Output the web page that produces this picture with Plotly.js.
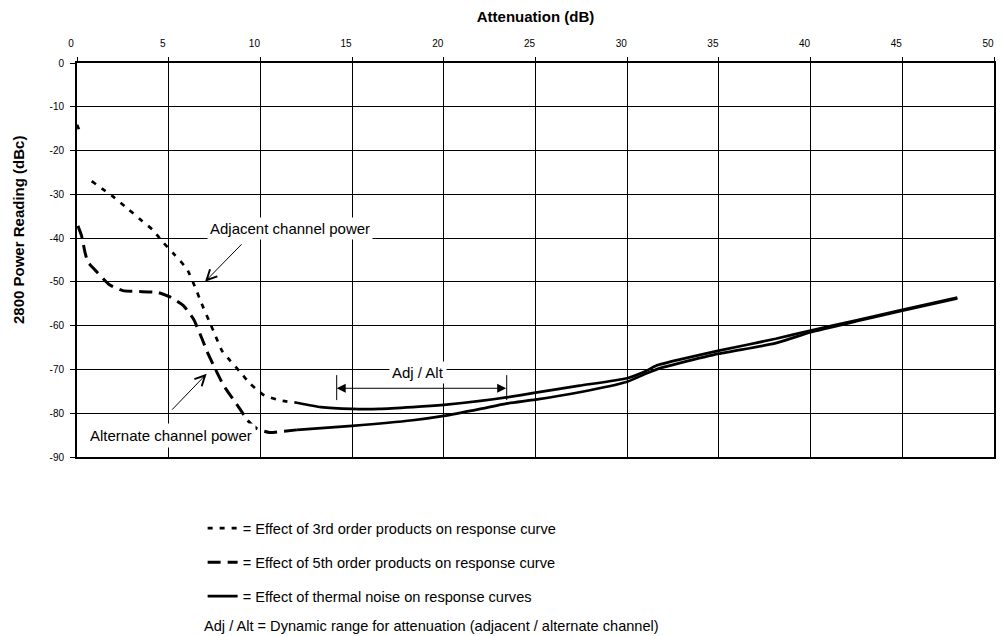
<!DOCTYPE html>
<html>
<head>
<meta charset="utf-8">
<script src="https://cdn.plot.ly/plotly-3.0.1.min.js"></script>
<style>html,body{margin:0;padding:0;background:#fff}#chart{width:1003px;height:636px}</style>
</head>
<body>
<div id="chart"></div>
<script>
// ---- tick values ----
const xTicks = [0, 5, 10, 15, 20, 25, 30, 35, 40, 45, 50];
const yTicks = [0, -10, -20, -30, -40, -50, -60, -70, -80, -90];

// ---- adjacent channel, 3rd-order products (dotted part) ----
const adj3X = [0, 0.12, null, 0.8, 1.9, 2.8, 3.55, 4.1, 4.7, 5.3, 6.0, 6.45, 6.8, 7.2, 7.55, 7.9, 8.35, 8.9, 9.45, 10.2, 11.1, 12.0];
const adj3Y = [-14.1, -15.3, null, -27, -30.3, -33.4, -36.1, -38, -41, -43.7, -47.1, -51.3, -55, -58.9, -62.3, -65.7, -68, -70.6, -73.3, -75.9, -77.1, -77.6];

// ---- alternate channel, 5th-order products (dashed part) ----
const alt5X = [0.05, 0.25, 0.45, 0.6, 1.1, 1.75, 2.5, 3.3, 4.4, 5.1, 5.8, 6.35, 6.75, 7.1, 7.45, 8.0, 8.75, 9.3, 9.8, 10.5, 11.3, 12.0];
const alt5Y = [-37.2, -39.5, -43.5, -45.5, -47.8, -50.6, -52, -52.2, -52.4, -53.5, -55.4, -58.5, -62.3, -66, -69.1, -73.7, -78.2, -81.6, -83.5, -84.4, -84.1, -83.8];

// ---- thermal noise (solid parts) ----
const adjThX = [12, 13.3, 15, 16.5, 18.3, 20, 22, 23.4, 25, 27.4, 30, 31, 31.6, 32.9, 35, 38.1, 40, 42.5, 45, 48];
const adjThY = [-77.6, -78.6, -79, -79, -78.6, -78.1, -77.2, -76.4, -75.3, -73.7, -72.0, -70.4, -69.1, -67.7, -65.7, -63.0, -61.1, -58.8, -56.4, -53.6];
const altThX = [12, 15, 18.3, 20, 22, 23.4, 25, 27.4, 30, 31, 31.8, 32.9, 35, 38.1, 40, 42.5, 45, 48];
const altThY = [-83.8, -82.9, -81.6, -80.6, -79.0, -77.8, -76.9, -75.2, -72.8, -71.0, -69.7, -68.5, -66.4, -64.0, -61.5, -59.0, -56.6, -53.8];

// ---- texts ----
const legendNames = [
  '= Effect of 3rd order products on response curve',
  '= Effect of 5th order products on response curve',
  '= Effect of thermal noise on response curves'
];
const noteText = 'Adj / Alt = Dynamic range for attenuation (adjacent / alternate channel)';
const adjLabel = 'Adjacent channel power';
const altLabel = 'Alternate channel power';
const rangeLabel = 'Adj / Alt';
const xTitle = 'Attenuation (dB)';
const yTitle = '2800 Power Reading (dBc)';

const FONT = 'Liberation Sans, Arial, Helvetica, sans-serif';
const DOT = '5px,7px';
const DASH = '13px,7px';
const LW = 2.7;

const traces = [
  {x: adj3X, y: adj3Y, mode: 'lines', name: legendNames[0], legendgroup: 'g1', legendrank: 1,
   line: {color: '#000', width: LW, dash: DOT, shape: 'spline', smoothing: 0.5}, connectgaps: false},
  {x: alt5X, y: alt5Y, mode: 'lines', name: legendNames[1], legendgroup: 'g2', legendrank: 2,
   line: {color: '#000', width: LW + 0.3, dash: DASH, shape: 'spline', smoothing: 0.5}},
  {x: adjThX, y: adjThY, mode: 'lines', name: legendNames[2], legendgroup: 'g3', legendrank: 3,
   line: {color: '#000', width: LW, shape: 'spline', smoothing: 0.5}},
  {x: altThX, y: altThY, mode: 'lines', name: legendNames[2], legendgroup: 'g3', showlegend: false,
   line: {color: '#000', width: LW, shape: 'spline', smoothing: 0.5}}
];

const layout = {
  width: 1003, height: 636,
  margin: {l: 77, r: 9, t: 63, b: 179},
  paper_bgcolor: '#fff', plot_bgcolor: '#fff',
  font: {family: FONT, color: '#000', size: 10},
  showlegend: true,
  xaxis: {
    side: 'top', range: [0, 50], tickvals: xTicks, ticktext: xTicks.map(String),
    showgrid: true, gridcolor: '#000', gridwidth: 1, zeroline: false,
    showline: true, linecolor: '#000', linewidth: 2, mirror: true,
    ticks: 'outside', ticklen: 4, tickcolor: '#000', tickwidth: 1,
    tickfont: {size: 10, family: FONT}, ticklabelshift: -6, ticklabelstandoff: 6,
    title: {text: xTitle, font: {size: 15, weight: 'bold', family: FONT}, standoff: 12}
  },
  yaxis: {
    range: [-90, 0], tickvals: yTicks, ticktext: yTicks.map(String),
    showgrid: true, gridcolor: '#000', gridwidth: 1, zeroline: false,
    showline: true, linecolor: '#000', linewidth: 2, mirror: true,
    ticks: 'outside', ticklen: 5, tickcolor: '#000', tickwidth: 1,
    tickfont: {size: 10, family: FONT}, ticklabelstandoff: 4
  },
  legend: {
    x: 0.137, xanchor: 'left', y: -0.14, yanchor: 'top',
    font: {size: 14.6, family: FONT}, tracegroupgap: 12, traceorder: 'grouped',
    bgcolor: 'rgba(0,0,0,0)', borderwidth: 0
  },
  shapes: [
    {type: 'line', xref: 'x', yref: 'y', x0: 14.16, x1: 14.16, y0: -71.3, y1: -77.0, line: {color: '#000', width: 1}},
    {type: 'line', xref: 'x', yref: 'y', x0: 23.43, x1: 23.43, y0: -71.3, y1: -77.0, line: {color: '#000', width: 1}}
  ],
  annotations: [
    {xref: 'paper', yref: 'paper', x: (18 - 77) / 917, y: (457 - 230) / 394, xanchor: 'center', yanchor: 'middle',
     textangle: -90, text: yTitle, showarrow: false, font: {size: 15, weight: 'bold', family: FONT}},
    {xref: 'x', yref: 'y', x: 11.64, y: -37.7, text: adjLabel, showarrow: false, bgcolor: '#fff',
     borderpad: 2, font: {size: 15, family: FONT}},
    {xref: 'x', yref: 'y', x: 6.98, y: -49.95, axref: 'x', ayref: 'y', ax: 9.0, ay: -41.3, text: '',
     showarrow: true, arrowhead: 5, arrowsize: 2, arrowwidth: 1, arrowcolor: '#000', borderpad: 0},
    {xref: 'x', yref: 'y', x: 5.13, y: -85.2, text: altLabel, showarrow: false, bgcolor: '#fff',
     borderpad: 3, font: {size: 15, family: FONT}},
    {xref: 'x', yref: 'y', x: 7.07, y: -71.0, axref: 'x', ayref: 'y', ax: 5.16, ay: -79.3, text: '',
     showarrow: true, arrowhead: 5, arrowsize: 2, arrowwidth: 1, arrowcolor: '#000', borderpad: 0},
    {xref: 'x', yref: 'y', x: 18.6, y: -70.8, text: rangeLabel, showarrow: false, bgcolor: '#fff',
     borderpad: 2, font: {size: 15, family: FONT}},
    {xref: 'x', yref: 'y', x: 14.16, y: -74.3, axref: 'x', ayref: 'y', ax: 23.43, ay: -74.3, text: '',
     showarrow: true, arrowside: 'end+start', arrowhead: 2, startarrowhead: 2, arrowsize: 1.8, startarrowsize: 1.8,
     arrowwidth: 1, arrowcolor: '#000', borderpad: 0},
    {xref: 'paper', yref: 'paper', x: (202 - 77) / 917, xanchor: 'left', y: (457 - 626) / 394, yanchor: 'middle',
     text: noteText, showarrow: false, font: {size: 14.6, family: FONT}}
  ]
};

Plotly.newPlot('chart', traces, layout, {staticPlot: true, displayModeBar: false});
</script>
</body>
</html>
